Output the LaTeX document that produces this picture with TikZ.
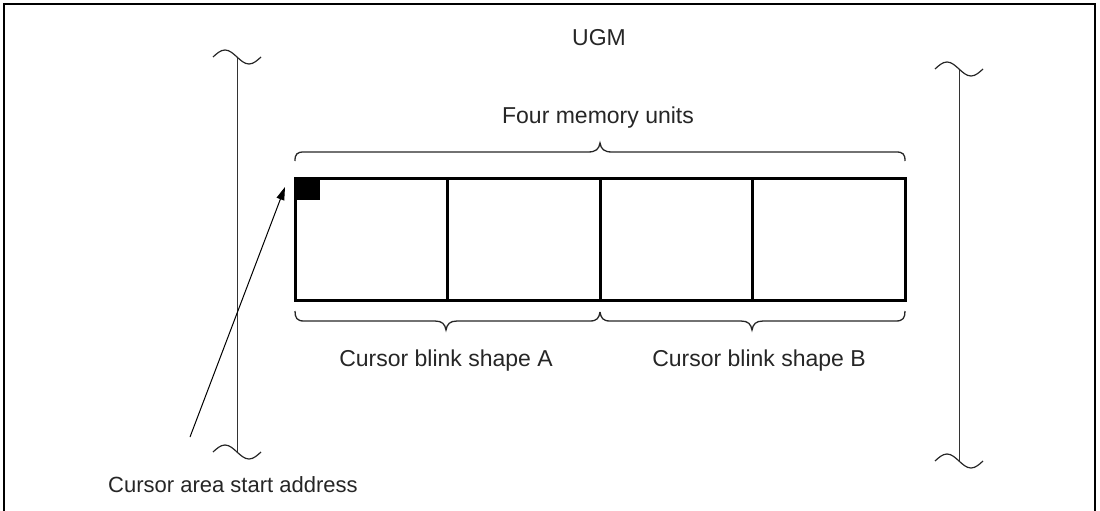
\documentclass[tikz,border=0pt]{standalone}
\usepackage{fontspec}
\setmainfont{Liberation Sans}
\usetikzlibrary{arrows.meta}
\begin{document}
\begin{tikzpicture}[x=1pt,y=-1pt,
  lbl/.style={font=\fontsize{23}{27}\selectfont, inner sep=0pt, text=black!85},
  thin/.style={line width=1pt, black!80},
  bracepath/.style={line width=1.3pt, black!85},
  heavy/.style={line width=3pt, black},
  wave/.style={line width=1.2pt, black!85}]
\useasboundingbox (0,0) rectangle (1100,511);
% frame
\draw[line width=2pt] (4,511) -- (4,4) -- (1095,4) -- (1095,511);
% titles
\node[lbl] (ugm) at (599,38) {UGM};
\node[lbl] (four) at (598,118) {Four memory units};
% left scale
\coordinate (lt) at (237,57);
\coordinate (lb) at (237,452);
\draw[thin] (lt) -- (lb);
\draw[wave] (213,57) sin (225,50) cos (237,57) sin (249,64) cos (261,57);
\draw[wave] (213,452) sin (225,445) cos (237,452) sin (249,459) cos (261,452);
% right scale
\coordinate (rt) at (959,69);
\coordinate (rb) at (959,461);
\draw[thin] (rt) -- (rb);
\draw[wave] (935,69) sin (947,62) cos (959,69) sin (971,76) cos (983,69);
\draw[wave] (935,461) sin (947,454) cos (959,461) sin (971,468) cos (983,461);
% memory cells
\node[heavy, draw, minimum width=152.5pt, minimum height=122pt, inner sep=0pt] (c1) at (371.25,239) {};
\node[heavy, draw, minimum width=152.5pt, minimum height=122pt, inner sep=0pt] (c2) at (523.75,239) {};
\node[heavy, draw, minimum width=152.5pt, minimum height=122pt, inner sep=0pt] (c3) at (676.25,239) {};
\node[heavy, draw, minimum width=152.5pt, minimum height=122pt, inner sep=0pt] (c4) at (828.75,239) {};
\fill (295,178) rectangle (320,200);
% top brace
\draw[bracepath] (295,161) .. controls (295,154) and (297,152) .. (304,152) -- (588,152)
  .. controls (596,152) and (599,149) .. (600,143)
  .. controls (601,149) and (604,152) .. (612,152) -- (896,152)
  .. controls (903,152) and (905,154) .. (905,161);
% bottom braces
\draw[bracepath] (295,311) .. controls (295,318) and (297,321) .. (304,321) -- (435,321)
  .. controls (442,321) and (445,324) .. (446,330)
  .. controls (447,324) and (450,321) .. (457,321) -- (590,321)
  .. controls (597,321) and (599,318) .. (600,312);
\draw[bracepath] (600,312) .. controls (601,318) and (603,321) .. (610,321) -- (741,321)
  .. controls (748,321) and (751,324) .. (752,330)
  .. controls (753,324) and (756,321) .. (763,321) -- (896,321)
  .. controls (903,321) and (905,318) .. (905,311);
\node[lbl] (sa) at (446,361) {Cursor blink shape A};
\node[lbl] (sb) at (759,361) {Cursor blink shape B};
% start address
\node[lbl, font=\fontsize{22}{26}\selectfont, anchor=west] (addr) at (108,485) {Cursor area start address};
\coordinate (as) at (190,437);
\coordinate (ae) at (285,187);
\draw[line width=1pt, -{Triangle[length=13pt,width=8pt]}] (as) -- (ae);
\end{tikzpicture}
\end{document}
